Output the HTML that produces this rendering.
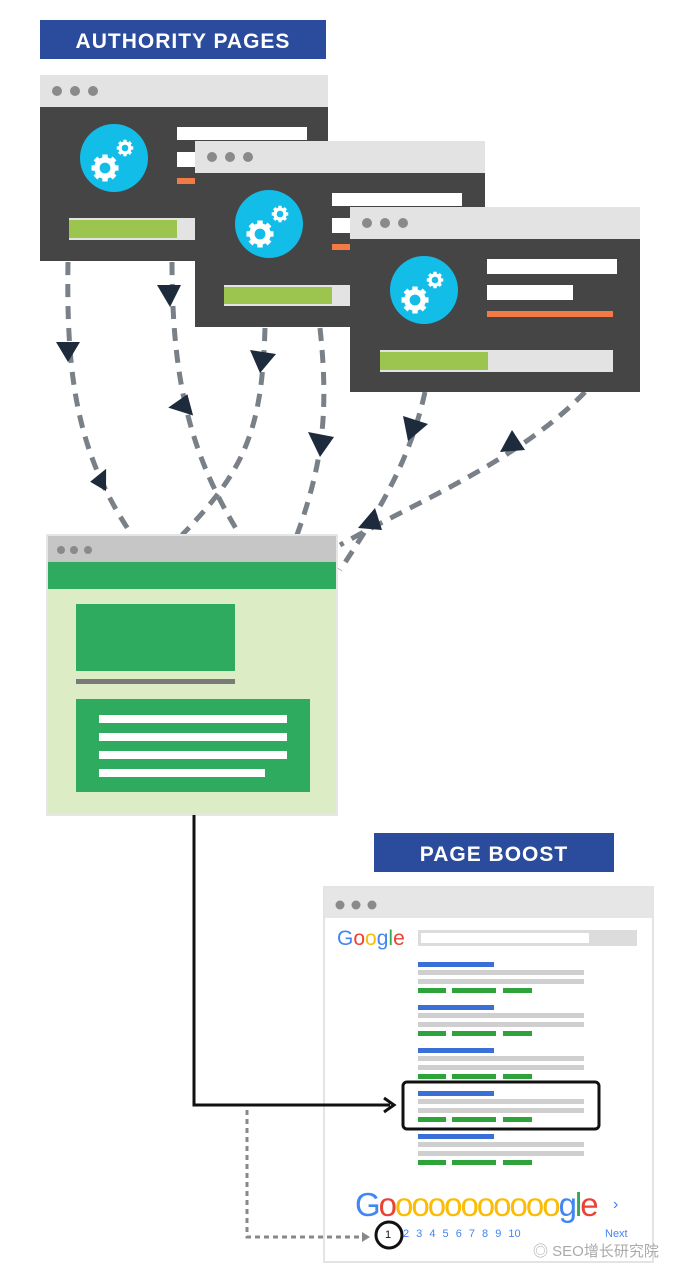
<!DOCTYPE html>
<html><head><meta charset="utf-8"><style>
html,body{margin:0;padding:0;background:#fff;}
svg{display:block;}
text{font-family:"Liberation Sans","Noto Sans CJK SC",sans-serif;}
</style></head><body>
<svg width="690" height="1280" viewBox="0 0 690 1280" xmlns="http://www.w3.org/2000/svg">
<defs>
<g id="gear">
  <circle r="9" fill="none" stroke="#fff" stroke-width="6"/>
  <g fill="#fff">
    <rect x="-3" y="-15" width="6" height="6"/><rect x="-3" y="9" width="6" height="6"/>
    <rect x="-15" y="-3" width="6" height="6"/><rect x="9" y="-3" width="6" height="6"/>
    <rect x="-3" y="-15" width="6" height="6" transform="rotate(45)"/><rect x="-3" y="9" width="6" height="6" transform="rotate(45)"/>
    <rect x="-15" y="-3" width="6" height="6" transform="rotate(45)"/><rect x="9" y="-3" width="6" height="6" transform="rotate(45)"/>
  </g>
</g>
</defs>
<!-- dashed connectors (behind windows) -->
<g fill="none" stroke="#7a8088" stroke-width="5" stroke-dasharray="13,9">
<path d="M68 262 C66 380 78 455 132 535"/>
<path d="M172 262 C172 380 190 455 240 535"/>
<path d="M265 328 C262 430 245 470 182 535"/>
<path d="M320 328 C330 420 320 470 297 535"/>
<path d="M425 392 C410 460 380 510 340 570"/>
<path d="M585 392 C520 460 420 500 340 545"/>
</g>

<rect x="40" y="20" width="286" height="39" fill="#2b4c9c"/>
<text x="183" y="48" font-size="21" font-weight="bold" fill="#fff" text-anchor="middle" letter-spacing="1">AUTHORITY PAGES</text>

<g>
<rect x="40" y="75" width="288" height="32" fill="#e3e3e3"/>
<circle cx="57" cy="91" r="5" fill="#8a8a8a"/><circle cx="75" cy="91" r="5" fill="#8a8a8a"/><circle cx="93" cy="91" r="5" fill="#8a8a8a"/>
<rect x="40" y="107" width="288" height="154" fill="#454545"/>
<circle cx="114" cy="158" r="34" fill="#12bde8"/>
<use href="#gear" transform="translate(105,168) scale(0.9)"/><use href="#gear" transform="translate(125,148) scale(0.55)"/>
<rect x="177" y="127" width="130" height="13" fill="#fff"/><rect x="177" y="152" width="100" height="15" fill="#fff"/>
<rect x="177" y="178" width="60" height="6" fill="#f47a45"/>
<rect x="69" y="218" width="236" height="22" fill="#e3e3e3"/><rect x="69" y="220" width="108" height="18" fill="#9bc54e"/>
</g>
<g>
<rect x="195" y="141" width="290" height="32" fill="#e3e3e3"/>
<circle cx="212" cy="157" r="5" fill="#8a8a8a"/><circle cx="230" cy="157" r="5" fill="#8a8a8a"/><circle cx="248" cy="157" r="5" fill="#8a8a8a"/>
<rect x="195" y="173" width="290" height="154" fill="#454545"/>
<circle cx="269" cy="224" r="34" fill="#12bde8"/>
<use href="#gear" transform="translate(260,234) scale(0.9)"/><use href="#gear" transform="translate(280,214) scale(0.55)"/>
<rect x="332" y="193" width="130" height="13" fill="#fff"/><rect x="332" y="218" width="100" height="15" fill="#fff"/>
<rect x="332" y="244" width="60" height="6" fill="#f47a45"/>
<rect x="224" y="285" width="126" height="21" fill="#e3e3e3"/><rect x="224" y="287" width="108" height="17" fill="#9bc54e"/>
</g>
<g>
<rect x="350" y="207" width="290" height="32" fill="#e3e3e3"/>
<circle cx="367" cy="223" r="5" fill="#8a8a8a"/><circle cx="385" cy="223" r="5" fill="#8a8a8a"/><circle cx="403" cy="223" r="5" fill="#8a8a8a"/>
<rect x="350" y="239" width="290" height="153" fill="#454545"/>
<circle cx="424" cy="290" r="34" fill="#12bde8"/>
<use href="#gear" transform="translate(415,300) scale(0.9)"/><use href="#gear" transform="translate(435,280) scale(0.55)"/>
<rect x="487" y="259" width="130" height="15" fill="#fff"/><rect x="487" y="285" width="86" height="15" fill="#fff"/>
<rect x="487" y="311" width="126" height="6" fill="#f47a45"/>
<rect x="380" y="350" width="233" height="22" fill="#e3e3e3"/><rect x="380" y="352" width="108" height="18" fill="#9bc54e"/>
</g>

<g fill="#1d2b3c">
<polygon points="56,342 80,342 68,362"/>
<polygon points="90,480 108,470 104,492" transform="rotate(-10 100 480)"/>
<polygon points="157,285 181,285 170,307"/>
<polygon points="168,404 190,396 190,418" transform="rotate(-15 182 405)"/>
<polygon points="250,350 276,354 260,373"/>
<polygon points="308,432 334,437 320,457"/>
<polygon points="403,416 428,424 408,441"/>
<polygon points="358,528 375,508 382,530"/>
<polygon points="500,452 512,430 525,450"/>
</g>

<rect x="47" y="535" width="290" height="280" fill="#dcecc4" stroke="#e6e6e6" stroke-width="2"/>
<rect x="48" y="536" width="288" height="26" fill="#c6c6c6"/>
<circle cx="61" cy="550" r="4" fill="#8a8a8a"/><circle cx="74" cy="550" r="4" fill="#8a8a8a"/><circle cx="88" cy="550" r="4" fill="#8a8a8a"/>
<rect x="48" y="562" width="288" height="27" fill="#2fab5f"/>
<rect x="76" y="604" width="159" height="67" fill="#2fab5f"/>
<rect x="76" y="679" width="159" height="5" fill="#7a7a7a"/>
<rect x="76" y="699" width="234" height="93" fill="#2fab5f"/>
<rect x="99" y="715" width="188" height="8" fill="#fff"/><rect x="99" y="733" width="188" height="8" fill="#fff"/>
<rect x="99" y="751" width="188" height="8" fill="#fff"/><rect x="99" y="769" width="166" height="8" fill="#fff"/>

<rect x="374" y="833" width="240" height="39" fill="#2b4c9c"/>
<text x="494" y="861" font-size="21" font-weight="bold" fill="#fff" text-anchor="middle" letter-spacing="1">PAGE BOOST</text>

<rect x="324" y="887" width="329" height="375" fill="#fff" stroke="#e4e4e4" stroke-width="2"/>
<rect x="325" y="888" width="327" height="30" fill="#e6e6e6"/>
<circle cx="340" cy="905" r="4.5" fill="#8a8a8a"/><circle cx="356" cy="905" r="4.5" fill="#8a8a8a"/><circle cx="372" cy="905" r="4.5" fill="#8a8a8a"/>
<text x="337" y="945" font-size="21" font-family="Liberation Sans"><tspan fill="#4285f4">G</tspan><tspan fill="#ea4335">o</tspan><tspan fill="#fbbc05">o</tspan><tspan fill="#4285f4">g</tspan><tspan fill="#34a853">l</tspan><tspan fill="#ea4335">e</tspan></text>
<rect x="418" y="930" width="219" height="16" fill="#dcdcdc"/><rect x="421" y="933" width="168" height="10" fill="#fff"/>
<g id="res">
<rect x="418" y="962" width="76" height="5" fill="#3a6fd8"/>
<rect x="418" y="970" width="166" height="5" fill="#cfcfcf"/>
<rect x="418" y="979" width="166" height="5" fill="#cfcfcf"/>
<rect x="418" y="988" width="28" height="5" fill="#2ea33a"/><rect x="452" y="988" width="44" height="5" fill="#2ea33a"/><rect x="503" y="988" width="29" height="5" fill="#2ea33a"/>
</g>
<use href="#res" y="43"/><use href="#res" y="86"/><use href="#res" y="129"/><use href="#res" y="172"/>
<rect x="403" y="1082" width="196" height="47" rx="4" fill="none" stroke="#111" stroke-width="3"/>

<text x="355" y="1216" font-size="33" font-family="Liberation Sans" letter-spacing="-2"><tspan fill="#4285f4">G</tspan><tspan fill="#ea4335">o</tspan><tspan fill="#fbbc05">oooooooooo</tspan><tspan fill="#4285f4">g</tspan><tspan fill="#34a853">l</tspan><tspan fill="#ea4335">e</tspan></text>
<text x="613" y="1209" font-size="16" fill="#4285f4">›</text>
<text x="385" y="1238" font-size="11" fill="#111">1</text>
<text x="403" y="1237" font-size="11" fill="#4285f4" word-spacing="4">2 3 4 5 6 7 8 9 10</text>
<text x="605" y="1237" font-size="11" fill="#4285f4">Next</text>
<circle cx="389" cy="1235" r="13" fill="none" stroke="#111" stroke-width="3"/>

<polyline points="194,815 194,1105 390,1105" fill="none" stroke="#111" stroke-width="3"/>
<polyline points="384,1098 394,1105 384,1112" fill="none" stroke="#111" stroke-width="3"/>
<polyline points="247,1110 247,1237 362,1237" fill="none" stroke="#888" stroke-width="3" stroke-dasharray="5,4"/>
<polygon points="362,1232 370,1237 362,1242" fill="#888"/>

<text x="533" y="1256" font-size="15" fill="#aaa">◎ SEO增长研究院</text>
</svg>
</body></html>
